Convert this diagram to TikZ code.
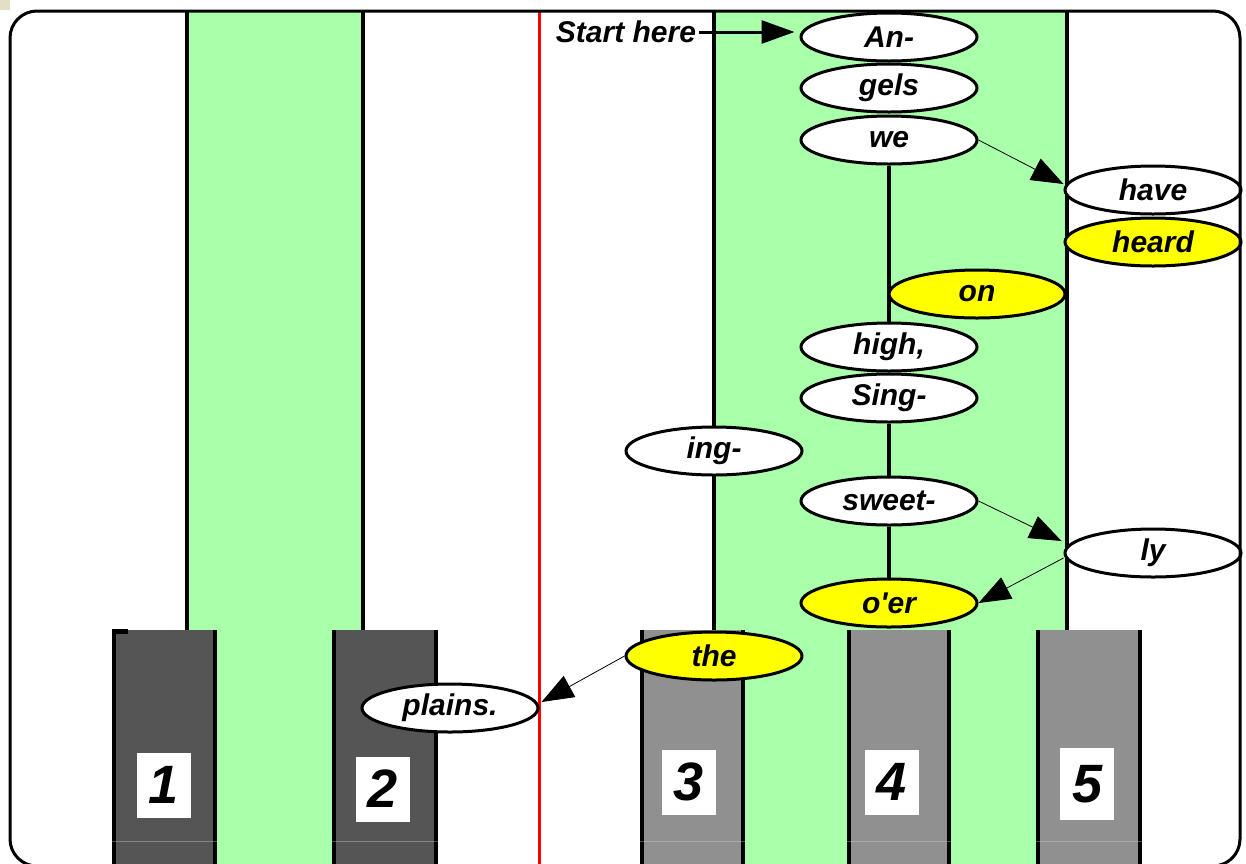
\documentclass[tikz,border=0pt]{standalone}
\usepackage{fontspec}
\setmainfont{Liberation Sans}
\usetikzlibrary{shapes.geometric,arrows.meta,calc}
\definecolor{lgreen}{RGB}{170,255,170}
\definecolor{dkey}{RGB}{85,85,85}
\definecolor{lkey}{RGB}{144,144,144}
\definecolor{beige}{RGB}{226,223,196}
\definecolor{yel}{RGB}{255,255,0}
\definecolor{faint}{RGB}{200,235,200}
\pgfdeclarelayer{back}
\pgfdeclarelayer{mid}
\pgfsetlayers{back,mid,main}
\tikzset{
  word/.style={ellipse,draw=black,line width=3pt,fill=white,minimum width=176pt,minimum height=48pt,inner sep=0pt,font=\fontsize{30}{35}\selectfont\bfseries\itshape},
  hword/.style={word,fill=yel},
  colline/.style={line width=3.5pt,black},
  redline/.style={line width=3pt,red},
  keyedge/.style={line width=4pt,black},
  numbox/.style={fill=white,minimum width=54pt,minimum height=65pt,inner sep=0pt,font=\fontsize{54}{60}\selectfont\bfseries\itshape},
  seg/.style={line width=3.5pt,black},
  arr/.style={line width=0.8pt,-{Triangle[length=32pt,width=24pt]}},
  bigarr/.style={line width=3pt,-{Triangle[length=33pt,width=23pt]}},
  lbl/.style={inner sep=3pt,font=\fontsize{30}{35}\selectfont\bfseries\itshape}
}
\begin{document}
\begin{tikzpicture}[x=1pt,y=-1pt]
\useasboundingbox (0,0) rectangle (1246,863);
\clip (0,0) rectangle (1246,863);
\begin{pgfonlayer}{back}
\fill[white] (0,0) rectangle (1246,863);
\fill[beige] (0,0) rectangle (10,10);
\fill[lgreen] (187,12) rectangle (363,870);
\fill[lgreen] (714,12) rectangle (1067,870);
\draw[redline] (539,10) -- (539,870);
\foreach \x in {187,363,714,1067} \draw[colline] (\x,10) -- (\x,630);
% dark keys
\fill[dkey] (112,630) rectangle (217,870);
\fill[dkey] (332,630) rectangle (438,870);
\fill[black] (112,629) rectangle (128,634);
\foreach \x in {114,215,334,436} \draw[keyedge] (\x,630) -- (\x,870);
% light keys
\fill[lkey] (640,630) rectangle (745,870);
\fill[lkey] (847,630) rectangle (951,870);
\fill[lkey] (1036,630) rectangle (1142,870);
\foreach \x in {642,743,849,949,1038,1140} \draw[keyedge] (\x,630) -- (\x,870);
\foreach \a/\b in {112/217,332/438,640/745,847/951,1036/1142} \draw[faint,opacity=0.35,line width=0.6pt] (\a,841) -- (\b,841);
\node[numbox] (n1) at (164,785) {1};
\node[numbox] (n2) at (383,789) {2};
\node[numbox] (n3) at (689,782) {3};
\node[numbox] (n4) at (892,782) {4};
\node[numbox,minimum height=72pt] (n5) at (1087,784) {5};
\end{pgfonlayer}
% words
\node[lbl] (start) at (626,32) {Start here};
\node[word] (An) at (889,37) {An-};
\node[word] (gels) at (889,88) {gels};
\node[word] (we) at (889,140) {we};
\node[word] (have) at (1153,190) {have};
\node[hword] (heard) at (1153,242) {heard};
\node[hword] (on) at (977,294) {on};
\node[word] (high) at (889,347) {high,};
\node[word] (Sing) at (889,398) {Sing-};
\node[word] (ing) at (714,451) {ing-};
\node[word] (sweet) at (889,501) {sweet-};
\node[word] (ly) at (1153,553) {ly};
\node[hword] (oer) at (889,603) {o\textquotesingle er};
\node[hword] (the) at (714,656) {the};
\node[word] (plains) at (450,708) {plains.};
\begin{pgfonlayer}{mid}
\draw[seg] (we) -- (high);
\draw[seg] (Sing) -- (sweet);
\draw[seg] (sweet) -- (oer);
\end{pgfonlayer}
\draw[bigarr,shorten >=5pt] (start.east) -- (An.west |- start.east);
\draw[arr] (we.east) -- ($(have.west)+(0,-6)$);
\draw[arr] (sweet.east) -- ($(ly.west)+(-2,-12)$);
\draw[arr] ($(ly.west)+(0,5)$) -- (oer.east);
\draw[arr] (the.west) -- ($(plains.east)+(2,-6)$);
\draw[line width=3pt,rounded corners=27pt] (10,11) rectangle (1240,866);
\end{tikzpicture}
\end{document}
